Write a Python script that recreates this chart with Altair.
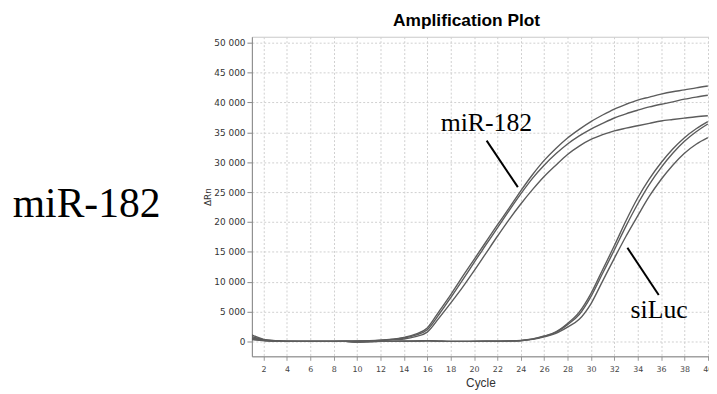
import altair as alt
import pandas as pd

cycles = list(range(1, 41))

mir_a = [1100, 350, 120, 20, 0, 0, 0, 10, 30, 60, 110, 200, 380, 680, 1200, 2250, 5000, 7800, 10800, 13700,
         16600, 19500, 22300, 25200, 27900, 30300, 32300, 34050, 35500, 36800, 37900, 38900, 39700, 40400, 40900,
         41400, 41800, 42100, 42450, 42750]
mir_b = [800, 300, 100, 10, 0, 0, 0, 10, 20, 50, 90, 170, 320, 560, 1050, 1950, 4500, 7300, 10200, 13200,
         16100, 19000, 21900, 24700, 27300, 29500, 31400, 33050, 34400, 35550, 36500, 37400, 38100, 38700, 39250,
         39700, 40100, 40550, 40900, 41200]
mir_c = [600, 250, 80, 0, 0, 0, 0, 0, 10, 40, 80, 150, 250, 400, 800, 1560, 3900, 6400, 9000, 11800,
         14700, 17600, 20400, 23000, 25400, 27600, 29500, 31300, 32700, 33800, 34600, 35250, 35700, 36100, 36500,
         36900, 37150, 37380, 37600, 37770]
siluc_d = [500, 200, 50, 0, 0, 0, 0, 0, 0, -120, -50, 0, 0, 30, 60, 120, 50, 0, 0, 20,
           30, 40, 70, 150, 400, 900, 1600, 3000, 4900, 8000, 12000, 16000, 20200, 24000, 27200,
           29900, 32200, 34100, 35600, 36800]
siluc_e = [400, 150, 40, 0, 0, 0, 0, 0, 0, -80, -30, 0, 0, 20, 50, 100, 40, 0, 0, 10,
           20, 30, 60, 130, 370, 830, 1500, 2800, 4500, 7500, 11400, 15300, 19300, 23000, 26300,
           29100, 31500, 33500, 35100, 36400]
siluc_f = [300, 120, 30, 0, 0, 0, 0, 0, 0, -100, -40, 0, 0, 20, 40, 80, 30, 0, 0, 10,
           20, 30, 50, 110, 330, 750, 1350, 2400, 3700, 6300, 10100, 13900, 17600, 21000, 24300,
           27100, 29500, 31500, 33000, 34100]

series_names = ["miR-182 1", "miR-182 2", "miR-182 3", "siLuc 1", "siLuc 2", "siLuc 3"]
series_values = [mir_a, mir_b, mir_c, siluc_d, siluc_e, siluc_f]

x_ticks = list(range(2, 41, 2))
y_ticks = list(range(0, 50001, 5000))

ann_labels = ["miR-182", "siLuc"]
ann_x = [21.06, 35.83]
ann_y = [35150, 3910]

ptr_x = [21.08, 33.12]
ptr_y = [33610, 15670]
ptr_x2 = [23.75, 35.80]
ptr_y2 = [25824, 7770]

side_label = ["miR-182"]
title_text = ["Amplification Plot"]

rows = []
for name, vals in zip(series_names, series_values):
    for c, v in zip(cycles, vals):
        rows.append({"series": name, "cycle": c, "value": v})
df = pd.DataFrame(rows)

ann_df = pd.DataFrame({"label": ann_labels, "cycle": ann_x, "value": ann_y})
ptr_df = pd.DataFrame({"x": ptr_x, "y": ptr_y, "x2": ptr_x2, "y2": ptr_y2})
side_df = pd.DataFrame({"label": side_label})
title_df = pd.DataFrame({"label": title_text})

x_scale = alt.Scale(domain=[1, 40.1], nice=False, zero=False)
y_scale = alt.Scale(domain=[-2500, 51000], nice=False, zero=False)

x_axis = alt.Axis(values=x_ticks, tickCount=40, title="Cycle", grid=True, gridDash=[2, 2], gridColor="#cfcfcf",
                  labelFont="DejaVu Sans", labelFontSize=8, labelColor="#444", tickSize=4, tickColor="#999",
                  labelPadding=5, domainColor="#888", labelOverlap=False, labelFlush=False,
                  titleFont="Liberation Sans", titleFontSize=12,
                  titleFontWeight="normal", titleColor="#333", titlePadding=5)
y_axis = alt.Axis(values=y_ticks, tickCount=20, title="ΔRn", grid=True, gridDash=[2, 2], gridColor="#cfcfcf",
                  labelFont="DejaVu Sans", labelFontSize=9, labelColor="#333", tickSize=5, tickColor="#888",
                  labelPadding=2, domainColor="#888", labelOverlap=False, labelFlush=False,
                  labelExpr="replace(format(datum.value, ','), ',', ' ')",
                  titleFont="DejaVu Sans", titleFontSize=9, titleFontWeight="normal", titleColor="#333",
                  titlePadding=1)

lines = alt.Chart(df).mark_line(color="#5c5c5c", strokeWidth=1.4, clip=True, interpolate="monotone").encode(
    x=alt.X("cycle:Q", scale=x_scale, axis=x_axis),
    y=alt.Y("value:Q", scale=y_scale, axis=y_axis),
    detail="series:N",
)

ann_text = alt.Chart(ann_df).mark_text(font="Liberation Serif", fontSize=26, align="center",
                                       baseline="alphabetic", color="#000").encode(
    x=alt.X("cycle:Q", scale=x_scale, axis=x_axis),
    y=alt.Y("value:Q", scale=y_scale, axis=y_axis),
    text="label:N",
)

pointers = alt.Chart(ptr_df).mark_rule(color="#000", strokeWidth=2).encode(
    x=alt.X("x:Q", scale=x_scale, axis=x_axis),
    y=alt.Y("y:Q", scale=y_scale, axis=y_axis),
    x2="x2:Q",
    y2="y2:Q",
)

side = alt.Chart(side_df).mark_text(font="Liberation Serif", fontSize=42, align="center",
                                    baseline="alphabetic", color="#000").encode(
    x=alt.value(-167), y=alt.value(182), text="label:N"
)

title = alt.Chart(title_df).mark_text(font="Liberation Sans", fontSize=17.5, fontWeight="bold", align="center",
                                      baseline="alphabetic", color="#000").encode(
    x=alt.value(217), y=alt.value(-11), text="label:N"
)

chart = alt.layer(lines, ann_text, pointers, side, title).properties(
    width=462, height=323,
    autosize=alt.AutoSizeParams(type="none"),
    padding={"left": 246.5, "top": 27, "right": 0, "bottom": 35},
).configure_view(stroke="#c8c8c8")

chart.save("out.html", embed_options={"renderer": "svg", "actions": False})
